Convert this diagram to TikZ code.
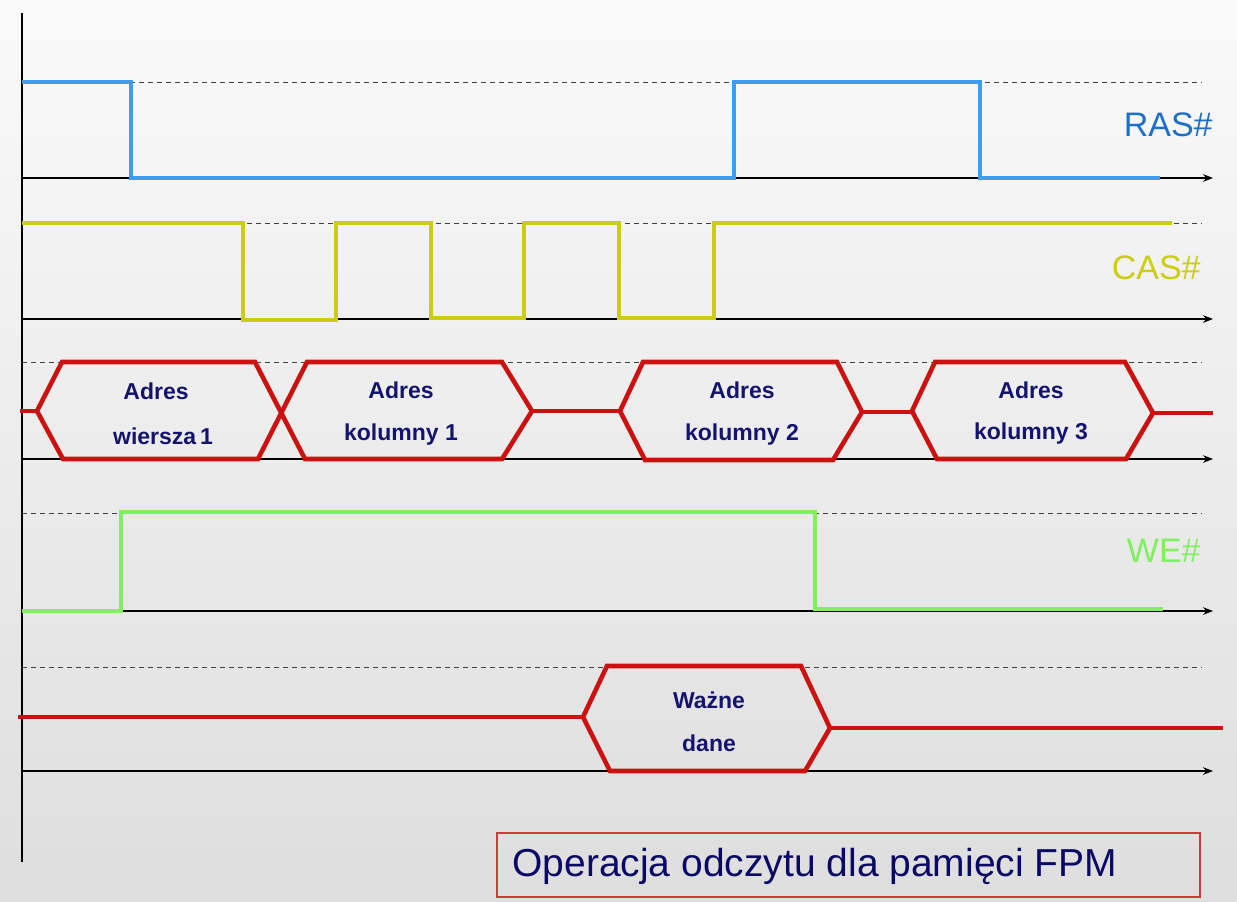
\documentclass[tikz,border=0pt]{standalone}
\usepackage{fontspec}
\setmainfont{Liberation Sans}
\usetikzlibrary{arrows.meta}
\definecolor{rascol}{HTML}{3D9EF0}
\definecolor{rastxt}{HTML}{1E6FC8}
\definecolor{cascol}{HTML}{CCCC11}
\definecolor{wecol}{HTML}{80F060}
\definecolor{buscol}{HTML}{CC1111}
\definecolor{navy}{HTML}{14146E}
\definecolor{titlecol}{HTML}{0A0A66}
\definecolor{boxcol}{HTML}{D03A3A}
\tikzset{
  axisline/.style={black, line width=0.6pt, -{Stealth[length=5pt,width=3.8pt]}},
  dashline/.style={black!75, line width=0.45pt, dash pattern=on 2.5pt off 2pt},
  sig/.style={line width=2.3pt, line join=miter},
  buslabel/.style={font=\fontsize{11.5}{13}\selectfont\bfseries, text=navy, inner sep=0pt},
  siglabel/.style={font=\fontsize{17}{20}\selectfont, inner sep=0pt, anchor=east}
}
\begin{document}
\begin{tikzpicture}[x=0.5pt,y=-0.5pt]
\shade[top color=white!98!black, bottom color=black!13] (0,0) rectangle (1237,901);
\useasboundingbox (0,0) rectangle (1237,901);
% dashed high-level lines
\foreach \yy in {82,223,362,513,667}
  \draw[dashline] (22,\yy) -- (1202,\yy);
% time axes
\foreach \yy in {178,319,459,611,771}
  \draw[axisline] (22,\yy) -- (1213,\yy);
% vertical axis
\draw[black, line width=1pt] (22,13) -- (22,862);
% RAS
\draw[sig, rascol] (22,82) -- (131,82) -- (131,178) -- (734,178) -- (734,82) -- (980,82) -- (980,178) -- (1160,178);
% CAS
\draw[sig, cascol] (22,223) -- (243,223) -- (243,320) -- (336,320) -- (336,223) -- (431,223) -- (431,318) -- (524,318) -- (524,223) -- (619,223) -- (619,318) -- (714,318) -- (714,223) -- (1172,223);
% Address bus
\draw[sig, buscol] (20,411) -- (37,411);
\draw[sig, buscol] (62,362) -- (37,411) -- (63,459) -- (258,459) -- (307,362) -- (502,362) -- (532,411) -- (502,459) -- (305,459) -- (255,362) -- cycle;
\draw[sig, buscol] (532,411) -- (620,411);
\draw[sig, buscol] (620,411) -- (643,362) -- (837,362) -- (862,412) -- (833,460) -- (645,460) -- cycle;
\draw[sig, buscol] (862,412) -- (912,412);
\draw[sig, buscol] (912,411) -- (935,362) -- (1125,362) -- (1153,413) -- (1126,459) -- (937,459) -- cycle;
\draw[sig, buscol] (1153,413) -- (1213,413);
% WE
\draw[sig, wecol] (22,611) -- (121,611) -- (121,512) -- (815,512) -- (815,609) -- (1163,609);
% Data bus
\draw[sig, buscol] (18,717) -- (583,717);
\draw[sig, buscol] (583,717) -- (607,666) -- (801,666) -- (830,728) -- (805,771) -- (610,771) -- cycle;
\draw[sig, buscol] (830,728) -- (1223,728);
% bus labels
\node[buslabel] (a1) at (156,391) {Adres};
\node[buslabel] (a1b) at (163,436) {wiersza\,1};
\node[buslabel] (a2) at (401,390) {Adres};
\node[buslabel] (a2b) at (401,435) {kolumny 1};
\node[buslabel] (a3) at (742,390) {Adres};
\node[buslabel] (a3b) at (742,435) {kolumny 2};
\node[buslabel] (a4) at (1031,390) {Adres};
\node[buslabel] (a4b) at (1031,434) {kolumny 3};
\node[buslabel] (d1) at (709,700) {Ważne};
\node[buslabel] (d1b) at (709,743) {dane};
% signal labels
\node[siglabel, text=rastxt] (ras) at (1213,125) {RAS\#};
\node[siglabel, text=cascol] (cas) at (1201,268) {CAS\#};
\node[siglabel, text=wecol] (we) at (1201,551) {WE\#};
% title
\draw[boxcol, line width=0.6pt] (497,833) rectangle (1200,897);
\node[anchor=west, inner sep=0pt, text=titlecol, font=\fontsize{19.5}{23}\selectfont] (title) at (512,866) {Operacja odczytu dla pamięci FPM};
\end{tikzpicture}
\end{document}
